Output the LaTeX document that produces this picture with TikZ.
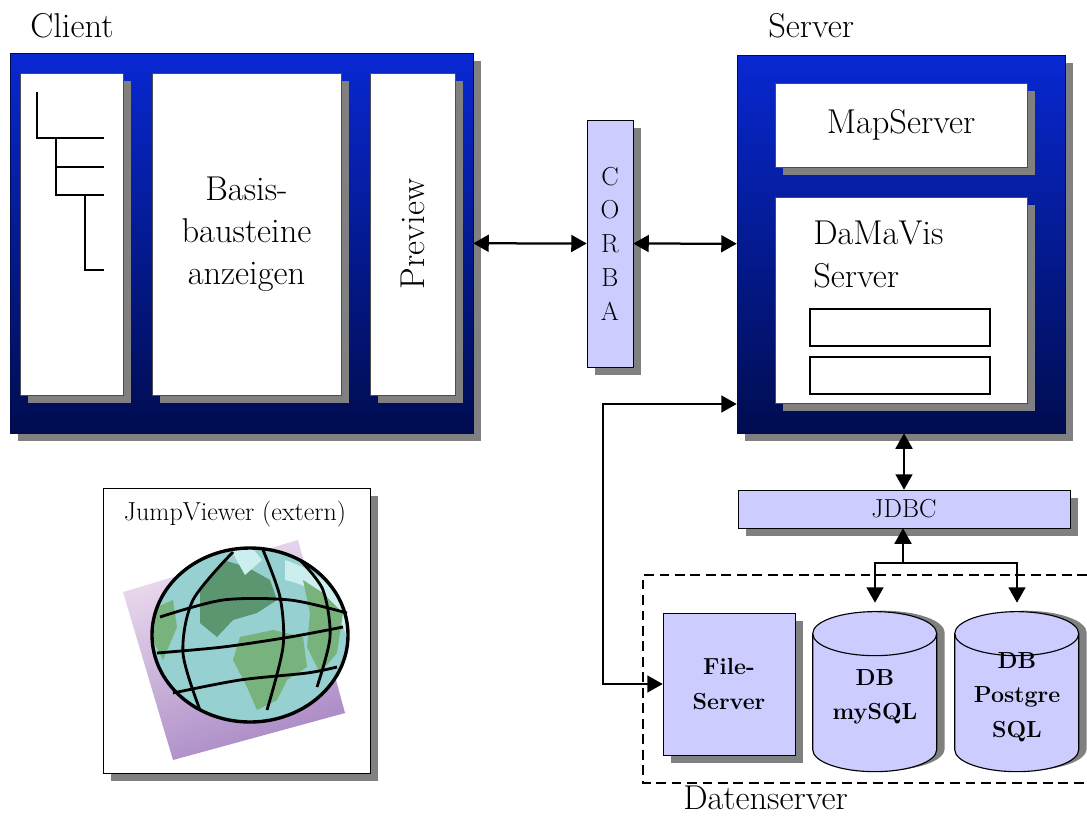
\documentclass[tikz,border=0pt]{standalone}
\usepackage{fontspec}
\usetikzlibrary{shadows,arrows.meta}

\definecolor{blauoben}{RGB}{8,40,210}
\definecolor{blauunten}{RGB}{0,12,80}
\definecolor{lila}{RGB}{204,204,255}
\definecolor{schattengrau}{RGB}{128,128,128}
\definecolor{lilahell}{RGB}{238,222,240}
\definecolor{lilatief}{RGB}{168,136,196}
\definecolor{meer}{RGB}{150,208,208}
\definecolor{meerhell}{RGB}{205,238,238}
\definecolor{land}{RGB}{120,178,125}
\definecolor{landtief}{RGB}{92,150,112}

\begin{document}
\begin{tikzpicture}[
        x=0.025cm, y=-0.025cm,
        every node/.style={font=\fontsize{24.5}{30}\selectfont, inner sep=0pt},
        groesse/.style 2 args={minimum width=#1*0.025cm, minimum height=#2*0.025cm},
        schatten/.style={drop shadow={shadow xshift=0.2cm, shadow yshift=-0.2cm, fill=schattengrau, opacity=1}},
        rahmen/.style={schatten, draw=blauunten, top color=blauoben, bottom color=blauunten},
        tafel/.style={schatten, draw=black!70, fill=white},
        lilabox/.style={schatten, draw=black, fill=lila},
        fach/.style={draw=black, line width=1.4pt, fill=white},
        dbtext/.style={font=\bfseries\fontsize{16.5}{24.5}\selectfont, align=center},
        klein/.style={font=\fontsize{18.5}{24}\selectfont},
        pfeil/.style={line width=1.6pt},
        >={Triangle[length=11pt,width=12pt]}
    ]

        \useasboundingbox (0,0) rectangle (1087,816);

        %--------------------------------
        % Client
        %--------------------------------
        \node[anchor=base west] (clienttitel) at (30,37) {Client};
        \node[rahmen, groesse={463}{380}] (client) at (241.5,243) {};

        \node[tafel, groesse={103}{322}] (baum) at (71.5,234) {};
        \node[tafel, groesse={189}{322}, align=center] (basis) at (246.5,234) {Basis-\\bausteine\\anzeigen};
        \node[tafel, groesse={85}{322}] (preview) at (412.5,234) {\rotatebox{90}{Preview}};

        % Baumansicht
        \draw[line width=1.4pt] (37,92) |- (104,138);
        \draw[line width=1.4pt] (56,138) |- (104,195);
        \draw[line width=1.4pt] (56,167) -- (104,167);
        \draw[line width=1.4pt] (85,195) |- (104,270);

        %--------------------------------
        % CORBA
        %--------------------------------
        \node[lilabox, klein, groesse={46}{247}, align=center] (corba) at (610,243.5) {C\\O\\R\\B\\A};

        %--------------------------------
        % Server
        %--------------------------------
        \node[anchor=base west] (servertitel) at (768,37) {Server};
        \node[rahmen, groesse={328}{378}] (server) at (901,244) {};

        \node[tafel, groesse={252}{84}] (mapserver) at (901,125) {MapServer};
        \node[tafel, groesse={252}{206}] (damavis) at (901,300) {};
        \node[anchor=north west, align=left] (damavistext) at (813,221) {DaMaVis\\Server};

        \node[fach, groesse={180}{37}] (fach1) at (900,327.5) {};
        \node[fach, groesse={180}{37}] (fach2) at (900,375.5) {};

        \draw[pfeil,<->] (client) -- (corba);
        \draw[pfeil,<->] (corba) -- (server);

        %--------------------------------
        % JDBC und Datenserver
        %--------------------------------
        \node[lilabox, klein, groesse={332}{38}] (jdbc) at (904,509) {JDBC};
        \draw[pfeil,<->] (jdbc.north) -- (jdbc.north |- server.south);

        \draw[dash pattern=on 7pt off 4pt, line width=0.8pt] (1087,575) -- (643,575) -- (643,783) -- (1087,783);
        \node[anchor=base west] (datentitel) at (683,809) {Datenserver};

        \node[lilabox, groesse={132}{142}, dbtext] (fileserver) at (729,684) {File-\\Server};

        % Datenbanken als Zylinder
        \node[groesse={124}{160}] (mysql) at (875,683) {};
        \node[groesse={124}{160}] (pgsql) at (1017,683) {};
        \foreach \db in {mysql,pgsql} {
            \fill[schattengrau] ([shift={(8,30)}]\db.north west) -- ++(0,116)
                arc[start angle=180, end angle=0, x radius=62, y radius=22] -- ++(0,-116)
                arc[start angle=0, end angle=-180, x radius=62, y radius=22] -- cycle;
            \filldraw[fill=lila, draw=black, line width=0.8pt] ([yshift=-22]\db.north west) -- ++(0,116)
                arc[start angle=180, end angle=0, x radius=62, y radius=22] -- ++(0,-116)
                arc[start angle=0, end angle=-180, x radius=62, y radius=22] -- cycle;
            \draw[line width=0.8pt] ([yshift=-22]\db.north west)
                arc[start angle=180, end angle=0, x radius=62, y radius=22];
        }
        \node[dbtext] (mysqltext) at ([yshift=-10pt]mysql.center) {DB\\mySQL};
        \node[dbtext] (pgsqltext) at ([yshift=-10pt]pgsql.center) {DB\\Postgre\\SQL};

        \coordinate (abzweig) at (903,563);
        \draw[pfeil,->] (abzweig) -- (abzweig |- jdbc.south);
        \draw[pfeil,<->] (mysql.north) |- (abzweig) -| (pgsql.north);

        \coordinate (knick) at (603,404);
        \draw[pfeil,<->] (fileserver.west) -| (knick) |- (server.west |- knick);

        %--------------------------------
        % JumpViewer
        %--------------------------------
        \node[tafel, draw=black, groesse={267}{285}] (jump) at (236.5,630.5) {};
        \node[anchor=base, klein] (jumptitel) at (235,520) {JumpViewer (extern)};

        \shade[top color=lilahell, bottom color=lilatief, shading angle=20]
            (123,592) -- (298,540) -- (345,713) -- (173,760) -- cycle;

        % Globus
        \fill[meer] (250,635) ellipse [x radius=98, y radius=87];
        \begin{scope}
            \clip (250,635) ellipse [x radius=98, y radius=87];
            \fill[meerhell] (285,560) .. controls (330,575) and (345,600) .. (348,640)
                .. controls (335,600) and (310,585) .. (285,580) -- cycle;
            \fill[landtief] (200,590) -- (223,560) -- (247,567) -- (270,580) -- (277,600) -- (257,613)
                -- (233,620) -- (217,637) -- (200,623) -- cycle;
            \fill[land] (240,637) -- (273,630) -- (303,637) -- (307,667) -- (287,680) -- (277,700)
                -- (257,710) -- (247,687) -- (233,660) -- cycle;
            \fill[land] (303,580) -- (323,593) -- (343,613) -- (337,653) -- (320,673) -- (307,647) -- (310,613) -- cycle;
            \fill[land] (157,607) -- (173,600) -- (177,627) -- (163,660) -- (153,640) -- cycle;
            \fill[meerhell] (230,548) -- (250,545) -- (262,560) -- (245,575) -- cycle;
        \end{scope}
        \draw[line width=2pt] plot[smooth] coordinates {(233,552) (193,600) (183,653) (200,710)};
        \draw[line width=2pt] plot[smooth] coordinates {(263,550) (280,597) (283,647) (267,710)};
        \draw[line width=2pt] plot[smooth] coordinates {(300,560) (323,590) (330,637) (317,687)};
        \draw[line width=2pt] plot[smooth] coordinates {(160,617) (223,600) (290,600) (347,613)};
        \draw[line width=2pt] plot[smooth] coordinates {(157,653) (223,647) (290,637) (343,627)};
        \draw[line width=2pt] plot[smooth] coordinates {(173,693) (240,680) (307,673) (337,667)};
        \draw[line width=2.4pt] (250,635) ellipse [x radius=98, y radius=87];

    \end{tikzpicture}
\end{document}
